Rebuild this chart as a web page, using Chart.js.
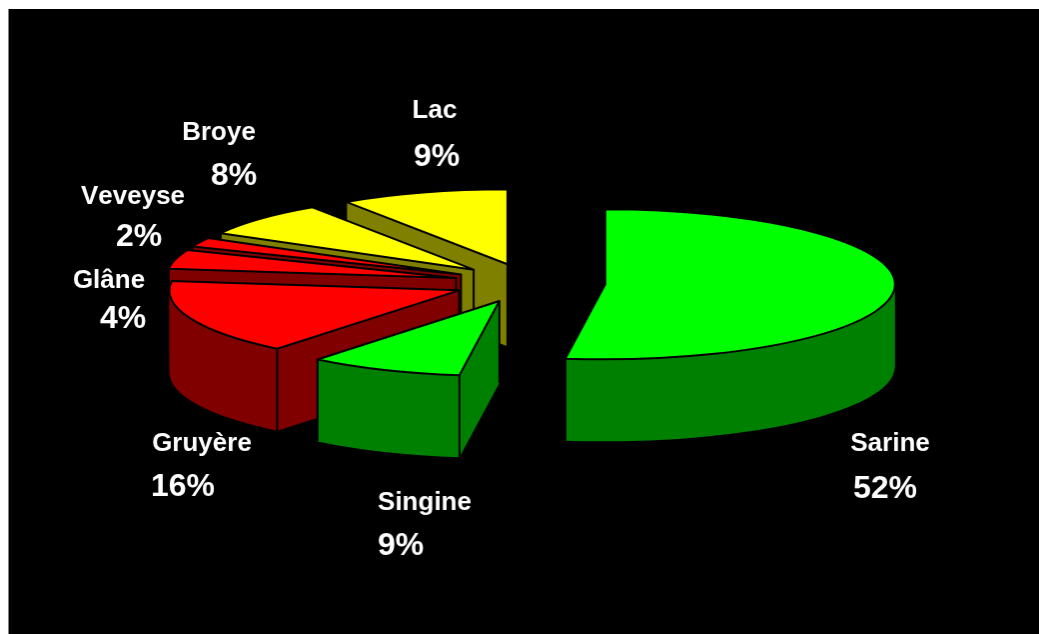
<!DOCTYPE html>
<html lang="fr">
  <head>
    <meta charset="UTF-8" />
    <title>Districts</title>
    <script src="https://cdn.jsdelivr.net/npm/chart.js@4/dist/chart.umd.min.js"></script>
    <style>
      body {
        margin: 9px 0 0 8px;
        background: #fff;
        overflow: hidden;
      }
      canvas {
        display: block;
        background: #000;
        border-left: 1px solid #808080;
      }
    </style>
  </head>
  <body>
    <canvas id="pie" width="1034" height="625"></canvas>
    <script>
      const districts = ["Sarine", "Singine", "Gruyère", "Glâne", "Veveyse", "Broye", "Lac"];
      // the labels show them rounded
      const shares = [52.2, 8.6, 16.2, 4.1, 2, 7.5, 9.4];
      const topColors = ["#00ff00", "#00ff00", "#ff0000", "#ff0000", "#ff0000", "#ffff00", "#ffff00"];
      const sideColors = ["#008000", "#008000", "#800000", "#800000", "#800000", "#808000", "#808000"];

      // look of the tilted pie
      const squash = 75 / 290;
      const depth = 82;
      const explode = 76;
      const paintOrder = [6, 5, 4, 3, 2, 1, 0]; // back to front
      // label anchors in canvas pixels: name x, name y, percent x, percent y
      const labelSpots = [
        [882, 435, 877, 480],
        [416, 494, 392, 537],
        [193, 435, 174, 478],
        [100, 272, 114, 310],
        [124, 188, 130, 228],
        [210, 124, 225, 167],
        [426, 102, 428, 148],
      ];

      function drawSlice(ctx, el, i) {
        const a0 = el.startAngle;
        const a1 = el.endAngle;
        const mid = (a0 + a1) / 2;
        const rx = el.outerRadius;
        const ry = rx * squash;
        const cx = el.x + explode * Math.cos(mid);
        const cy = el.y + explode * Math.sin(mid) * squash;
        const px = (a) => cx + rx * Math.cos(a);
        const py = (a) => cy + ry * Math.sin(a);

        const startFront = Math.cos(a0) < -1e-6;
        const endFront = Math.cos(a1) > 1e-6;

        ctx.lineWidth = 2;
        ctx.lineJoin = "round";
        ctx.strokeStyle = "#000";
        ctx.fillStyle = sideColors[i];

        // the two cut faces
        [a0, a1].forEach((a) => {
          ctx.beginPath();
          ctx.moveTo(cx, cy);
          ctx.lineTo(px(a), py(a));
          ctx.lineTo(px(a), py(a) + depth);
          ctx.lineTo(cx, cy + depth);
          ctx.closePath();
          ctx.fill();
        });

        // rounded wall, only the part turned to the viewer
        const w0 = Math.max(a0, 0);
        const w1 = Math.min(a1, Math.PI);
        if (w1 > w0) {
          ctx.beginPath();
          ctx.ellipse(cx, cy, rx, ry, 0, w0, w1);
          ctx.ellipse(cx, cy + depth, rx, ry, 0, w1, w0, true);
          ctx.closePath();
          ctx.fill();
        }

        // vertical edges
        const edge = (x, y) => {
          ctx.beginPath();
          ctx.moveTo(x, y);
          ctx.lineTo(x, y + depth);
          ctx.stroke();
        };
        if (startFront || endFront) edge(cx, cy);
        if (startFront || (a0 > 0 && a0 < Math.PI)) edge(px(a0), py(a0));
        if (endFront || (a1 > 0 && a1 < Math.PI)) edge(px(a1), py(a1));

        // top
        ctx.beginPath();
        ctx.moveTo(cx, cy);
        ctx.ellipse(cx, cy, rx, ry, 0, a0, a1);
        ctx.closePath();
        ctx.fillStyle = el.options.backgroundColor;
        ctx.fill();
        ctx.stroke();
      }

      const tiltedPie = {
        id: "tiltedPie",
        beforeDatasetsDraw(chart) {
          const arcs = chart.getDatasetMeta(0).data;
          chart.ctx.save();
          paintOrder.forEach((i) => drawSlice(chart.ctx, arcs[i], i));
          chart.ctx.restore();
          return false;
        },
        afterDraw(chart) {
          const ctx = chart.ctx;
          ctx.save();
          ctx.fillStyle = "#fff";
          ctx.textAlign = "center";
          ctx.textBaseline = "middle";
          ctx.fontKerning = "none";
          districts.forEach((name, i) => {
            const spot = labelSpots[i];
            ctx.font = 'bold 26px "Liberation Sans", Arial, sans-serif';
            ctx.fillText(name, spot[0], spot[1]);
            ctx.font = 'bold 32px "Liberation Sans", Arial, sans-serif';
            ctx.fillText(Math.round(shares[i]) + "%", spot[2], spot[3]);
          });
          ctx.restore();
        },
      };

      new Chart(document.getElementById("pie").getContext("2d"), {
        type: "pie",
        data: {
          labels: districts,
          datasets: [{ data: shares, backgroundColor: topColors, borderWidth: 0 }],
        },
        options: {
          responsive: false,
          animation: false,
          radius: 290,
          layout: { padding: { left: 8, bottom: 77 } },
          plugins: { legend: { display: false }, tooltip: { enabled: false } },
        },
        plugins: [tiltedPie],
      });
    </script>
  </body>
</html>
